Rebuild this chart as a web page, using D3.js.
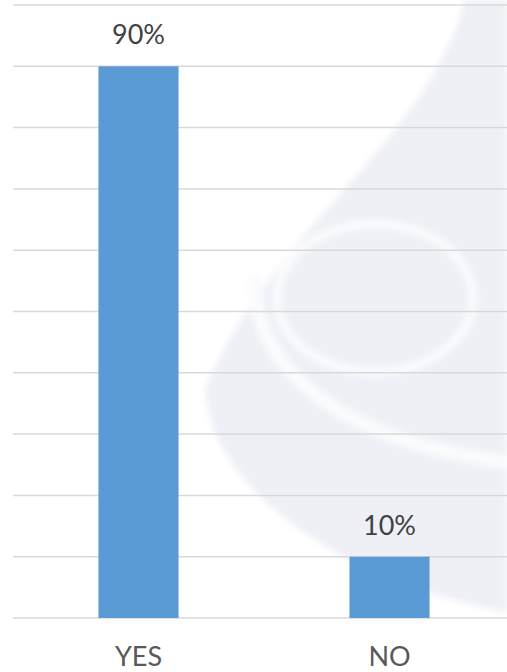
<!DOCTYPE html>
<html lang="en">
	<head>
		<meta charset="UTF-8" />
		<title>Chart</title>
		<script src="https://d3js.org/d3.v7.min.js"></script>
		<style>
			body { margin: 0; background: #fff; }
			svg { display: block; }
			.grid line { stroke: #d9d9d9; stroke-width: 1.5; }
			.bar { fill: #5b9bd5; }
			.value { font-family: Lato, "Open Sans", sans-serif; font-size: 27px; fill: #404040; }
			.cat { font-family: Lato, "Open Sans", sans-serif; font-size: 27px; fill: #595959; }
		</style>
	</head>
	<body>
		<svg></svg>
		<script>
			// Data
			const categories = ["YES", "NO"];
			const values = [90, 10];
			const labels = ["90%", "10%"];
			const gridTicks = [0, 10, 20, 30, 40, 50, 60, 70, 80, 90, 100];

			const width = 507, height = 672;
			const svg = d3.select("svg").attr("width", width).attr("height", height);

			// soft edges for the background logo
			svg.append("defs").append("filter").attr("id", "soft")
				.append("feGaussianBlur").attr("stdDeviation", 3);

			// faint logo watermark in the background
			const wm = svg.append("g").attr("filter", "url(#soft)");
			wm.append("path")
				.attr("d", "M465,0 C430,140 270,230 205,390 C215,510 380,590 507,612 L507,0 Z")
				.attr("fill", "#eef0f6");
			wm.append("ellipse")
				.attr("cx", 375).attr("cy", 298).attr("rx", 98).attr("ry", 74)
				.attr("fill", "none").attr("stroke", "#fafbfd").attr("stroke-width", 9);
			wm.append("path")
				.attr("d", "M255,275 C250,360 330,440 507,462")
				.attr("fill", "none").attr("stroke", "#fafbfd").attr("stroke-width", 14);

			// Scales
			const x = d3.scaleBand()
				.domain(categories)
				.range([13, 515])
				.paddingInner(0.681)
				.paddingOuter(0.3405);

			const y = d3.scaleLinear().domain([0, 100]).range([618, 5]);

			// gridlines
			svg.append("g").classed("grid", true)
				.selectAll("line")
				.data(gridTicks)
				.enter()
				.append("line")
				.attr("x1", 13)
				.attr("x2", width)
				.attr("y1", (d) => y(d))
				.attr("y2", (d) => y(d));

			// bars
			svg.selectAll(".bar")
				.data(values)
				.enter()
				.append("rect")
				.classed("bar", true)
				.attr("x", (d, i) => x(categories[i]))
				.attr("width", x.bandwidth())
				.attr("y", (d) => y(d))
				.attr("height", (d) => y(0) - y(d));

			// value labels
			svg.selectAll(".value")
				.data(values)
				.enter()
				.append("text")
				.classed("value", true)
				.attr("x", (d, i) => x(categories[i]) + x.bandwidth() / 2)
				.attr("y", (d) => y(d) - 22)
				.attr("text-anchor", "middle")
				.text((d, i) => labels[i]);

			// category axis labels
			svg.selectAll(".cat")
				.data(categories)
				.enter()
				.append("text")
				.classed("cat", true)
				.attr("x", (d) => x(d) + x.bandwidth() / 2)
				.attr("y", 666)
				.attr("text-anchor", "middle")
				.text((d) => d);
		</script>
	</body>
</html>
